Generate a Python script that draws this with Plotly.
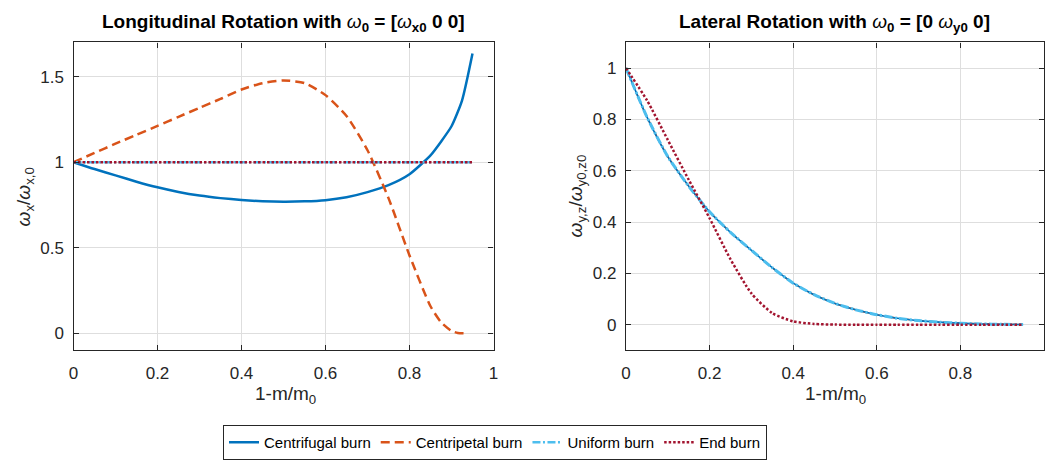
import plotly.graph_objects as go

# ---- Longitudinal rotation, omega_0 = [w_x0 0 0] ----
burn_frac_long = [0, 0.05, 0.1, 0.15, 0.2, 0.25, 0.3, 0.35, 0.4, 0.45, 0.5,
                  0.55, 0.6, 0.65, 0.7, 0.75, 0.8, 0.85, 0.875, 0.9, 0.925, 0.95]
centrifugal_long = [1.0, 0.96, 0.923, 0.886, 0.853, 0.826, 0.805, 0.79, 0.779, 0.772, 0.769,
                    0.771, 0.778, 0.795, 0.825, 0.866, 0.93, 1.04, 1.12, 1.21, 1.36, 1.635]

burn_frac_cp = [0, 0.05, 0.1, 0.15, 0.2, 0.25, 0.3, 0.35, 0.4, 0.45, 0.5,
                0.55, 0.6, 0.65, 0.7, 0.75, 0.8, 0.85, 0.875, 0.9, 0.915, 0.93]
centripetal_long = [1.0, 1.054, 1.108, 1.16, 1.212, 1.265, 1.318, 1.37, 1.425, 1.462, 1.478,
                    1.462, 1.392, 1.27, 1.07, 0.79, 0.455, 0.158, 0.065, 0.014, 0.002, 0.0]

burn_frac_flat = [0, 0.95]
uniform_long = [1.0, 1.0]
end_long = [1.0, 1.0]

# ---- Lateral rotation, omega_0 = [0 w_y0 0] ----
burn_frac_lat = [0, 0.05, 0.1, 0.15, 0.2, 0.25, 0.3, 0.35, 0.4, 0.45, 0.5,
                 0.55, 0.6, 0.65, 0.7, 0.75, 0.8, 0.85, 0.9, 0.95]
uniform_lat = [1.0, 0.81, 0.655, 0.54, 0.44, 0.36, 0.29, 0.222, 0.162, 0.117, 0.083,
               0.058, 0.039, 0.025, 0.016, 0.01, 0.006, 0.003, 0.0015, 0.0008]
end_lat = [1.0, 0.875, 0.72, 0.565, 0.415, 0.255, 0.122, 0.045, 0.013, 0.003, 0.0005,
           0.0, 0.0, 0.0, 0.0, 0.0, 0.0, 0.0, 0.0, 0.0]

names = ["Centrifugal burn", "Centripetal burn", "Uniform burn", "End burn"]
colors = ["#0072BD", "#D95319", "#4DBEEE", "#A2142F"]
dashes = ["solid", "9px,5px", "8px,2.5px,2px,2.5px", "2.5px,2px"]

W, H = 1045, 460
FONT = "Liberation Sans, Arial, Helvetica, sans-serif"
INK = "#262626"


def px_x(p):
    return p / W


def px_y(p):
    return 1 - p / H


fig = go.Figure()

LW = 2.5
# left panel
fig.add_trace(go.Scatter(x=burn_frac_long, y=centrifugal_long, name=names[0],
                         line=dict(color=colors[0], width=LW, dash=dashes[0], shape="spline", smoothing=0.6),
                         mode="lines", xaxis="x", yaxis="y", legendrank=1))
fig.add_trace(go.Scatter(x=burn_frac_cp, y=centripetal_long, name=names[1],
                         line=dict(color=colors[1], width=LW, dash=dashes[1], shape="spline", smoothing=0.6),
                         mode="lines", xaxis="x", yaxis="y", legendrank=2))
fig.add_trace(go.Scatter(x=burn_frac_flat, y=uniform_long, name=names[2],
                         line=dict(color=colors[2], width=LW, dash=dashes[2]),
                         mode="lines", xaxis="x", yaxis="y", legendrank=3))
fig.add_trace(go.Scatter(x=burn_frac_flat, y=end_long, name=names[3],
                         line=dict(color=colors[3], width=LW, dash=dashes[3]),
                         mode="lines", xaxis="x", yaxis="y", legendrank=4))

# right panel: centripetal, centrifugal and uniform burns coincide here
fig.add_trace(go.Scatter(x=burn_frac_lat, y=uniform_lat, name=names[1], showlegend=False,
                         line=dict(color=colors[1], width=1.6, dash=dashes[1], shape="spline", smoothing=0.6),
                         mode="lines", xaxis="x2", yaxis="y2"))
fig.add_trace(go.Scatter(x=burn_frac_lat, y=uniform_lat, name=names[0], showlegend=False,
                         line=dict(color=colors[0], width=1.6, shape="spline", smoothing=0.6),
                         mode="lines", xaxis="x2", yaxis="y2"))
fig.add_trace(go.Scatter(x=burn_frac_lat, y=uniform_lat, name=names[2], showlegend=False,
                         line=dict(color=colors[2], width=LW + 0.5, dash=dashes[2], shape="spline", smoothing=0.6),
                         mode="lines", xaxis="x2", yaxis="y2"))
fig.add_trace(go.Scatter(x=burn_frac_lat, y=end_lat, name=names[3], showlegend=False,
                         line=dict(color=colors[3], width=LW, dash=dashes[3], shape="spline", smoothing=0.6),
                         mode="lines", xaxis="x2", yaxis="y2"))

x_ticks = [0, 0.2, 0.4, 0.6, 0.8, 1]
axis_common = dict(showgrid=True, gridcolor="#dedede", gridwidth=1, zeroline=False,
                   showline=True, linecolor=INK, linewidth=1.2, mirror="ticks",
                   ticks="inside", ticklen=5, tickcolor=INK, tickwidth=1,
                   tickfont=dict(family=FONT, size=17, color=INK), automargin=False)

top_px, bot_px = 43, 355
ydom = [px_y(bot_px), px_y(top_px)]
left_dom = [px_x(73.5), px_x(493.5)]
right_dom = [px_x(626), px_x(1044)]

fig.update_layout(
    width=W, height=H,
    margin=dict(l=0, r=0, t=0, b=0),
    paper_bgcolor="white", plot_bgcolor="white",
    font=dict(family=FONT, color=INK),
    xaxis=dict(domain=left_dom, range=[0, 1], tickvals=x_ticks, anchor="y",
               ticklabelstandoff=7, **axis_common),
    yaxis=dict(domain=ydom, range=[-0.1, 1.7], tickvals=[0, 0.5, 1, 1.5], anchor="x",
               ticklabelstandoff=5, **axis_common),
    xaxis2=dict(domain=right_dom, range=[0, 1], tickvals=x_ticks, anchor="y2",
                ticklabelstandoff=7, **axis_common),
    yaxis2=dict(domain=ydom, range=[-0.1, 1.1], tickvals=[0, 0.2, 0.4, 0.6, 0.8, 1], anchor="x2",
                ticklabelstandoff=5, **axis_common),
    legend=dict(orientation="h", x=px_x(495), y=px_y(431), xanchor="center", yanchor="top",
                bordercolor=INK, borderwidth=1, bgcolor="white",
                font=dict(family=FONT, size=15, color="#000000"),
                itemwidth=30, tracegroupgap=0),
    showlegend=True,
)

ann_font = dict(family=FONT, size=19, color=INK)
title_font = dict(family=FONT, size=19, color="#000000")
annotations = [
    # panel titles
    dict(text="<b>Longitudinal Rotation with </b><i>ω</i><sub><b>0</b></sub><b> = [</b><i>ω</i><sub><b>x0</b></sub><b> 0 0]</b>",
         x=px_x(283.5), y=px_y(23), font=title_font),
    dict(text="<b>Lateral Rotation with </b><i>ω</i><sub><b>0</b></sub><b> = [0 </b><i>ω</i><sub><b>y0</b></sub><b> 0]</b>",
         x=px_x(834), y=px_y(23), font=title_font),
    # x-axis titles
    dict(text="1-m/m<sub>0</sub>", x=px_x(285), y=px_y(400), font=ann_font),
    dict(text="1-m/m<sub>0</sub>", x=px_x(835), y=px_y(400), font=ann_font),
    # y-axis titles
    dict(text="<i>ω</i><sub>x</sub>/<i>ω</i><sub>x,0</sub>", x=px_x(25), y=px_y(200), textangle=-90, font=ann_font),
    dict(text="<i>ω</i><sub>y,z</sub>/<i>ω</i><sub>y0,z0</sub>", x=px_x(577), y=px_y(199), textangle=-90, font=ann_font),
]
for a in annotations:
    a.update(xref="paper", yref="paper", showarrow=False, xanchor="center", yanchor="middle")
fig.update_layout(annotations=annotations)

fig.write_html("out.html")
